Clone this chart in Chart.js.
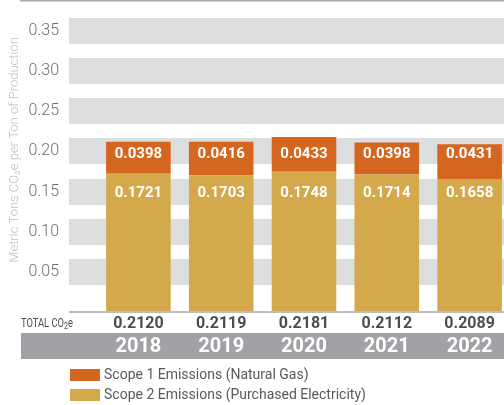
<!DOCTYPE html>
<html>
<head>
<meta charset="utf-8">
<script src="https://cdn.jsdelivr.net/npm/chart.js@4.4.0/dist/chart.umd.min.js"></script>
<style>
  html, body { margin: 0; padding: 0; background: #fff; overflow: hidden; }
  #wrap { width: 511px; height: 405px; }
</style>
</head>
<body>
<div id="wrap"><canvas id="emissions"></canvas></div>
<script>
// values
const years = ['2018', '2019', '2020', '2021', '2022'];
const scope1 = [0.0398, 0.0416, 0.0433, 0.0398, 0.0431];   // natural gas
const scope2 = [0.1721, 0.1703, 0.1748, 0.1714, 0.1658];   // purchased electricity
const totals = ['0.2120', '0.2119', '0.2181', '0.2112', '0.2089'];
const seriesNames = ['Scope 1 Emissions (Natural Gas)', 'Scope 2 Emissions (Purchased Electricity)'];
const seriesColors = ['#d5661f', '#d4a94b'];
const yTitle = 'Metric Tons CO\u2082e per Ton of Production';

const FONT = 'Roboto';

/*** extra drawing: value labels, totals row, year band, legend, axis title ***/
const panelPlugin = {
  id: 'panel',
  afterDraw(chart) {
    const {ctx, chartArea, scales: {x}} = chart;
    const W = chart.width;
    const bottom = chartArea.bottom;
    ctx.save();

    // thin rule on top
    ctx.fillStyle = '#a7a8ab';
    ctx.fillRect(20, 0, W - 20, 1.5);

    ctx.textAlign = 'center';
    ctx.textBaseline = 'middle';

    // labels inside bars
    ctx.fillStyle = '#ffffff';
    ctx.font = 'bold 15px ' + FONT;
    years.forEach((yr, i) => {
      const cx = x.getPixelForValue(i);
      ctx.fillText(scope1[i].toFixed(4), cx, chartArea.top + 123);
      ctx.fillText(scope2[i].toFixed(4), cx, chartArea.top + 162);
    });

    // totals row
    ctx.fillStyle = '#4d4d4f';
    ctx.font = 'bold 16px ' + FONT;
    totals.forEach((t, i) => ctx.fillText(t, x.getPixelForValue(i), bottom + 11.5));

    // TOTAL CO2e
    ctx.save();
    ctx.translate(21, bottom + 12);
    ctx.scale(0.78, 1);
    ctx.textAlign = 'left';
    ctx.font = '12px ' + FONT;
    ctx.fillText('TOTAL CO', 0, 0);
    let w = ctx.measureText('TOTAL CO').width;
    ctx.font = '9px ' + FONT;
    ctx.fillText('2', w, 3);
    w += ctx.measureText('2').width;
    ctx.font = '12px ' + FONT;
    ctx.fillText('e', w, 0);
    ctx.restore();

    // year band
    ctx.fillStyle = '#a1a2a6';
    ctx.fillRect(21, bottom + 21, W - 21, 26);
    ctx.fillStyle = '#ffffff';
    ctx.font = 'bold 20px ' + FONT;
    years.forEach((yr, i) => ctx.fillText(yr, x.getPixelForValue(i), bottom + 35));

    // legend (scope 1 first)
    ctx.textAlign = 'left';
    ctx.font = '14px ' + FONT;
    seriesNames.forEach((name, i) => {
      const ly = bottom + 63 + i * 20;
      ctx.fillStyle = seriesColors[i];
      ctx.fillRect(70, ly - 6, 30, 12);
      ctx.fillStyle = '#58595b';
      ctx.fillText(name, 104, ly);
    });

    // y axis title
    ctx.save();
    ctx.translate(15, 150);
    ctx.rotate(-Math.PI / 2);
    ctx.textAlign = 'center';
    ctx.fillStyle = '#bcbec0';
    ctx.font = '300 13px ' + FONT;
    ctx.fillText(yTitle, 0, 0);
    ctx.restore();

    ctx.restore();
  }
};

let canvas = document.getElementById('emissions');

new Chart(canvas.getContext('2d'), {
  type: 'bar',
  data: {
    labels: years,
    datasets: [
      { label: seriesNames[1], data: scope2, backgroundColor: seriesColors[1] },
      { label: seriesNames[0], data: scope1, backgroundColor: seriesColors[0] }
    ]
  },
  options: {
    responsive: true,
    maintainAspectRatio: false,
    animation: false,
    layout: { padding: { top: 31, bottom: 93, left: 0, right: 0 } },
    datasets: { bar: { barPercentage: 0.78, categoryPercentage: 1 } },
    plugins: { legend: { display: false }, tooltip: { enabled: false } },
    scales: {
      x: { stacked: true, display: false },
      y: {
        stacked: true,
        min: 0,
        max: 0.35,
        afterFit(scale) { scale.width = 97; },
        border: { display: false },
        grid: {
          // wide grid lines give the grey bands
          color: c => c.tick.value === 0 ? '#bcbdc0' : '#dcdddf',
          lineWidth: c => c.tick.value === 0 ? 2 : 26,
          drawTicks: true,
          tickLength: 28
        },
        ticks: {
          stepSize: 0.05,
          padding: 10,
          color: '#6d6e71',
          font: { family: FONT, size: 16, weight: 300 },
          callback: v => v === 0 ? '' : v.toFixed(2)
        }
      }
    }
  },
  plugins: [panelPlugin]
});
</script>
</body>
</html>
